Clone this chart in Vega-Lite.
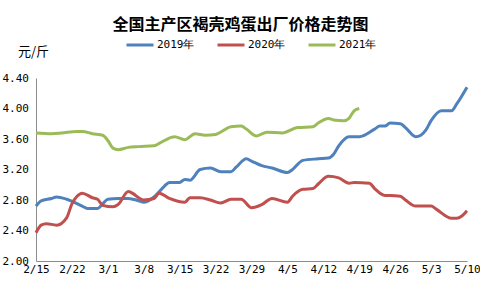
{
"$schema": "https://vega.github.io/schema/vega-lite/v6.json",
"width": 431, "height": 183,
"autosize": {"type": "none"},
"padding": {"left": 36, "top": 78, "right": 13, "bottom": 27},
"background": "white",
"title": {"text": "全国主产区褐壳鸡蛋出厂价格走势图", "font": "Noto Sans CJK SC", "fontSize": 16, "fontWeight": "bold", "color": "#000000", "anchor": "middle", "frame": "group", "dx": -11, "offset": -3},
"datasets": {
"rows": [
{"date":"2021/02/15","series":"2019年","price":2.72},{"date":"2021/02/16","series":"2019年","price":2.79},{"date":"2021/02/18","series":"2019年","price":2.82},{"date":"2021/02/19","series":"2019年","price":2.84},{"date":"2021/02/21","series":"2019年","price":2.81},{"date":"2021/02/24","series":"2019年","price":2.72},{"date":"2021/02/25","series":"2019年","price":2.69},{"date":"2021/02/27","series":"2019年","price":2.69},{"date":"2021/02/28","series":"2019年","price":2.75},{"date":"2021/03/01","series":"2019年","price":2.81},{"date":"2021/03/03","series":"2019年","price":2.82},{"date":"2021/03/05","series":"2019年","price":2.82},{"date":"2021/03/07","series":"2019年","price":2.79},{"date":"2021/03/08","series":"2019年","price":2.77},{"date":"2021/03/10","series":"2019年","price":2.84},{"date":"2021/03/12","series":"2019年","price":2.98},{"date":"2021/03/13","series":"2019年","price":3.03},{"date":"2021/03/15","series":"2019年","price":3.03},{"date":"2021/03/16","series":"2019年","price":3.07},{"date":"2021/03/17","series":"2019年","price":3.06},{"date":"2021/03/19","series":"2019年","price":3.20},{"date":"2021/03/21","series":"2019年","price":3.22},{"date":"2021/03/23","series":"2019年","price":3.17},{"date":"2021/03/25","series":"2019年","price":3.17},{"date":"2021/03/26","series":"2019年","price":3.23},{"date":"2021/03/28","series":"2019年","price":3.34},{"date":"2021/03/29","series":"2019年","price":3.31},{"date":"2021/03/31","series":"2019年","price":3.25},{"date":"2021/04/02","series":"2019年","price":3.22},{"date":"2021/04/05","series":"2019年","price":3.16},{"date":"2021/04/06","series":"2019年","price":3.20},{"date":"2021/04/08","series":"2019年","price":3.32},{"date":"2021/04/11","series":"2019年","price":3.34},{"date":"2021/04/13","series":"2019年","price":3.35},{"date":"2021/04/14","series":"2019年","price":3.40},{"date":"2021/04/15","series":"2019年","price":3.51},{"date":"2021/04/17","series":"2019年","price":3.63},{"date":"2021/04/19","series":"2019年","price":3.63},{"date":"2021/04/22","series":"2019年","price":3.73},{"date":"2021/04/23","series":"2019年","price":3.77},{"date":"2021/04/24","series":"2019年","price":3.77},{"date":"2021/04/25","series":"2019年","price":3.81},{"date":"2021/04/27","series":"2019年","price":3.80},{"date":"2021/04/28","series":"2019年","price":3.75},{"date":"2021/04/30","series":"2019年","price":3.63},{"date":"2021/05/01","series":"2019年","price":3.65},{"date":"2021/05/02","series":"2019年","price":3.72},{"date":"2021/05/03","series":"2019年","price":3.84},{"date":"2021/05/05","series":"2019年","price":3.97},{"date":"2021/05/07","series":"2019年","price":3.97},{"date":"2021/05/08","series":"2019年","price":4.06},{"date":"2021/05/10","series":"2019年","price":4.28},
{"date":"2021/02/15","series":"2020年","price":2.37},{"date":"2021/02/16","series":"2020年","price":2.47},{"date":"2021/02/17","series":"2020年","price":2.49},{"date":"2021/02/19","series":"2020年","price":2.47},{"date":"2021/02/21","series":"2020年","price":2.57},{"date":"2021/02/22","series":"2020年","price":2.75},{"date":"2021/02/23","series":"2020年","price":2.85},{"date":"2021/02/24","series":"2020年","price":2.89},{"date":"2021/02/26","series":"2020年","price":2.83},{"date":"2021/02/27","series":"2020年","price":2.81},{"date":"2021/02/28","series":"2020年","price":2.73},{"date":"2021/03/02","series":"2020年","price":2.71},{"date":"2021/03/03","series":"2020年","price":2.74},{"date":"2021/03/05","series":"2020年","price":2.91},{"date":"2021/03/06","series":"2020年","price":2.88},{"date":"2021/03/07","series":"2020年","price":2.83},{"date":"2021/03/08","series":"2020年","price":2.80},{"date":"2021/03/10","series":"2020年","price":2.82},{"date":"2021/03/11","series":"2020年","price":2.89},{"date":"2021/03/13","series":"2020年","price":2.82},{"date":"2021/03/16","series":"2020年","price":2.77},{"date":"2021/03/17","series":"2020年","price":2.83},{"date":"2021/03/19","series":"2020年","price":2.83},{"date":"2021/03/21","series":"2020年","price":2.80},{"date":"2021/03/23","series":"2020年","price":2.76},{"date":"2021/03/25","series":"2020年","price":2.81},{"date":"2021/03/27","series":"2020年","price":2.81},{"date":"2021/03/29","series":"2020年","price":2.70},{"date":"2021/03/31","series":"2020年","price":2.74},{"date":"2021/04/02","series":"2020年","price":2.82},{"date":"2021/04/05","series":"2020年","price":2.77},{"date":"2021/04/06","series":"2020年","price":2.85},{"date":"2021/04/08","series":"2020年","price":2.94},{"date":"2021/04/10","series":"2020年","price":2.95},{"date":"2021/04/11","series":"2020年","price":3.01},{"date":"2021/04/13","series":"2020年","price":3.11},{"date":"2021/04/15","series":"2020年","price":3.09},{"date":"2021/04/17","series":"2020年","price":3.02},{"date":"2021/04/18","series":"2020年","price":3.03},{"date":"2021/04/21","series":"2020年","price":3.02},{"date":"2021/04/22","series":"2020年","price":2.95},{"date":"2021/04/24","series":"2020年","price":2.86},{"date":"2021/04/25","series":"2020年","price":2.86},{"date":"2021/04/27","series":"2020年","price":2.85},{"date":"2021/04/28","series":"2020年","price":2.80},{"date":"2021/04/30","series":"2020年","price":2.72},{"date":"2021/05/03","series":"2020年","price":2.72},{"date":"2021/05/04","series":"2020年","price":2.68},{"date":"2021/05/07","series":"2020年","price":2.56},{"date":"2021/05/08","series":"2020年","price":2.56},{"date":"2021/05/09","series":"2020年","price":2.59},{"date":"2021/05/10","series":"2020年","price":2.66},
{"date":"2021/02/15","series":"2021年","price":3.68},{"date":"2021/02/18","series":"2021年","price":3.67},{"date":"2021/02/20","series":"2021年","price":3.68},{"date":"2021/02/23","series":"2021年","price":3.70},{"date":"2021/02/24","series":"2021年","price":3.70},{"date":"2021/02/26","series":"2021年","price":3.67},{"date":"2021/02/28","series":"2021年","price":3.65},{"date":"2021/03/01","series":"2021年","price":3.58},{"date":"2021/03/02","series":"2021年","price":3.48},{"date":"2021/03/03","series":"2021年","price":3.46},{"date":"2021/03/05","series":"2021年","price":3.49},{"date":"2021/03/07","series":"2021年","price":3.50},{"date":"2021/03/10","series":"2021年","price":3.51},{"date":"2021/03/12","series":"2021年","price":3.58},{"date":"2021/03/14","series":"2021年","price":3.63},{"date":"2021/03/16","series":"2021年","price":3.59},{"date":"2021/03/18","series":"2021年","price":3.67},{"date":"2021/03/20","series":"2021年","price":3.65},{"date":"2021/03/22","series":"2021年","price":3.66},{"date":"2021/03/25","series":"2021年","price":3.76},{"date":"2021/03/27","series":"2021年","price":3.77},{"date":"2021/03/28","series":"2021年","price":3.73},{"date":"2021/03/30","series":"2021年","price":3.64},{"date":"2021/04/01","series":"2021年","price":3.69},{"date":"2021/04/04","series":"2021年","price":3.68},{"date":"2021/04/07","series":"2021年","price":3.75},{"date":"2021/04/10","series":"2021年","price":3.76},{"date":"2021/04/11","series":"2021年","price":3.81},{"date":"2021/04/13","series":"2021年","price":3.87},{"date":"2021/04/14","series":"2021年","price":3.85},{"date":"2021/04/16","series":"2021年","price":3.84},{"date":"2021/04/17","series":"2021年","price":3.87},{"date":"2021/04/18","series":"2021年","price":3.97},{"date":"2021/04/19","series":"2021年","price":4.00}
]
},
"data": {"name": "rows"},
"mark": {"type": "line", "strokeWidth": 3, "interpolate": "monotone"},
"encoding": {
"x": {"field": "date", "type": "temporal",
 "scale": {"domain": [{"year": 2021, "month": 2, "date": 15}, {"year": 2021, "month": 5, "date": 10}]},
 "axis": {"title": null, "format": "%-m/%-d", "grid": false, "ticks": false, "tickSize": 0, "labelPadding": 2, "labelFlush": false, "labelOverlap": false,
  "labelFont": "DejaVu Sans Mono", "labelFontSize": 11, "labelColor": "#000000", "domainColor": "#8c8c8c", "domainWidth": 1,
  "values": [{"year":2021,"month":2,"date":15},{"year":2021,"month":2,"date":22},{"year":2021,"month":3,"date":1},{"year":2021,"month":3,"date":8},{"year":2021,"month":3,"date":15},{"year":2021,"month":3,"date":22},{"year":2021,"month":3,"date":29},{"year":2021,"month":4,"date":5},{"year":2021,"month":4,"date":12},{"year":2021,"month":4,"date":19},{"year":2021,"month":4,"date":26},{"year":2021,"month":5,"date":3},{"year":2021,"month":5,"date":10}]}},
"y": {"field": "price", "type": "quantitative",
 "scale": {"domain": [2, 4.4], "nice": false, "zero": false},
 "axis": {"title": "元/斤", "titleAngle": 0, "titleX": -3, "titleY": -27, "titleAlign": "center", "titleBaseline": "middle", "titleFont": "Noto Sans CJK SC", "titleFontSize": 13, "titleFontWeight": "normal", "titleColor": "#000000",
  "values": [2, 2.4, 2.8, 3.2, 3.6, 4.0, 4.4], "format": ".2f", "grid": false, "ticks": false, "tickSize": 0, "labelPadding": 34, "labelAlign": "left", "labelFlush": false, "labelOverlap": false,
  "labelFont": "DejaVu Sans Mono", "labelFontSize": 11, "labelColor": "#000000", "domainColor": "#8c8c8c", "domainWidth": 1}},
"color": {"field": "series", "type": "nominal",
 "scale": {"domain": ["2019年", "2020年", "2021年"], "range": ["#4F81BD", "#C0504D", "#9BBB59"]},
 "legend": {"title": null, "orient": "none", "legendX": 89, "legendY": -48, "direction": "horizontal", "symbolType": "stroke", "symbolSize": 729, "symbolStrokeWidth": 3, "labelFont": "DejaVu Sans Mono", "labelFontSize": 11, "labelColor": "#000000", "labelOffset": 2, "columnPadding": 16}}
},
"config": {"view": {"stroke": null}}
}
